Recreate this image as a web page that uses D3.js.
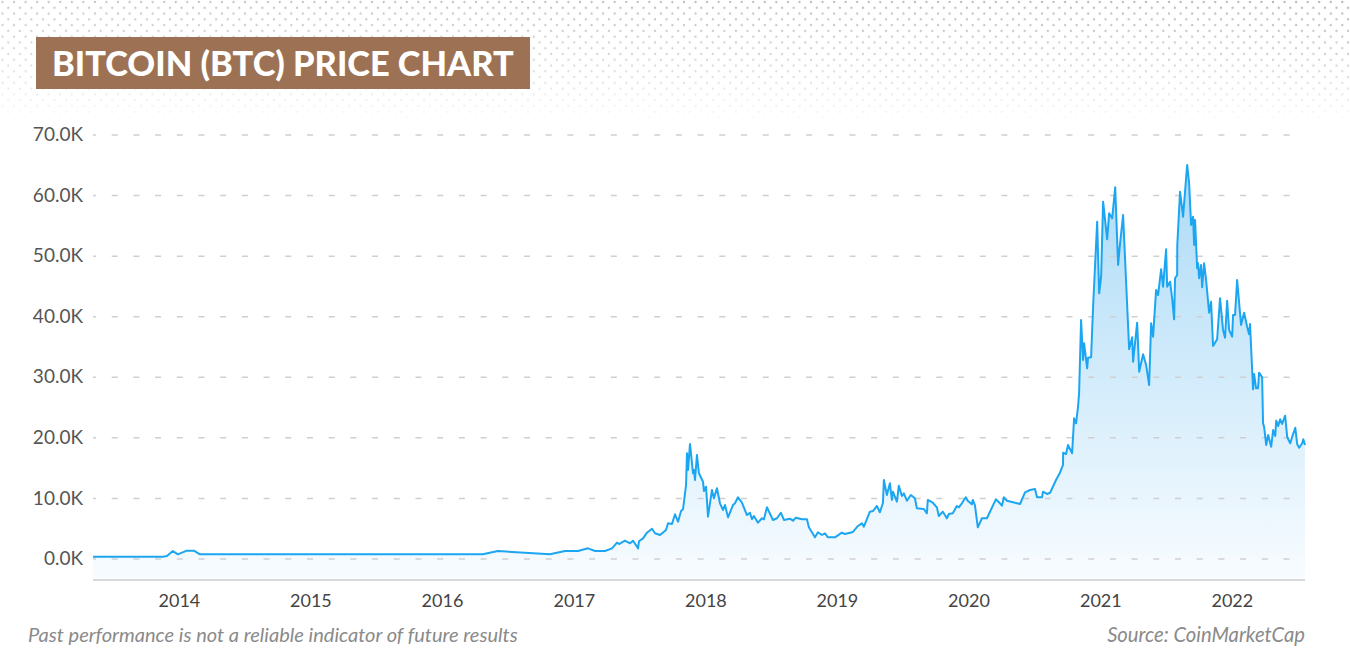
<!DOCTYPE html>
<html><head><meta charset="utf-8">
<script src="https://cdn.jsdelivr.net/npm/d3@7"></script>
<style>html,body{margin:0;padding:0;background:#fff;} svg{display:block;}</style>
</head><body><svg id="c" width="1350" height="669"></svg>
<script>
// ---------- data ----------
const titleText = "BITCOIN (BTC) PRICE CHART";
const noteText = "Past performance is not a reliable indicator of future results";
const sourceText = "Source: CoinMarketCap";
const yTickValues = [0, 10000, 20000, 30000, 40000, 50000, 60000, 70000];
const yearTicks = [2014, 2015, 2016, 2017, 2018, 2019, 2020, 2021, 2022];
// decimal years
const times = [
 2013.347, 2013.878, 2013.909, 2013.954, 2013.992, 2014.061, 2014.114, 2014.160, 2016.310, 2016.424,
 2016.819, 2016.933, 2017.032, 2017.108, 2017.161, 2017.237, 2017.290, 2017.328, 2017.343, 2017.389,
 2017.427, 2017.450, 2017.488, 2017.495, 2017.526, 2017.556, 2017.594, 2017.617, 2017.655, 2017.701,
 2017.716, 2017.746, 2017.769, 2017.792, 2017.815, 2017.830, 2017.853, 2017.860, 2017.868, 2017.883,
 2017.906, 2017.913, 2017.921, 2017.936, 2017.951, 2017.982, 2017.989, 2018.005, 2018.020, 2018.050,
 2018.065, 2018.088, 2018.111, 2018.134, 2018.149, 2018.172, 2018.210, 2018.225, 2018.248, 2018.278,
 2018.316, 2018.339, 2018.354, 2018.369, 2018.400, 2018.430, 2018.445, 2018.468, 2018.514, 2018.544,
 2018.574, 2018.597, 2018.643, 2018.666, 2018.688, 2018.734, 2018.772, 2018.787, 2018.833, 2018.856,
 2018.886, 2018.909, 2018.932, 2018.985, 2019.038, 2019.061, 2019.122, 2019.160, 2019.190, 2019.205,
 2019.251, 2019.274, 2019.304, 2019.327, 2019.350, 2019.357, 2019.380, 2019.403, 2019.418, 2019.426,
 2019.456, 2019.471, 2019.494, 2019.509, 2019.532, 2019.562, 2019.593, 2019.608, 2019.661, 2019.684,
 2019.691, 2019.729, 2019.760, 2019.775, 2019.805, 2019.836, 2019.851, 2019.881, 2019.912, 2019.927,
 2019.950, 2019.980, 2019.995, 2020.026, 2020.033, 2020.049, 2020.071, 2020.102, 2020.140, 2020.208,
 2020.239, 2020.254, 2020.269, 2020.292, 2020.391, 2020.429, 2020.467, 2020.505, 2020.520, 2020.558,
 2020.565, 2020.596, 2020.619, 2020.664, 2020.694, 2020.717, 2020.718, 2020.740, 2020.755, 2020.786,
 2020.801, 2020.816, 2020.831, 2020.839, 2020.854, 2020.869, 2020.877, 2020.900, 2020.907, 2020.930,
 2020.945, 2020.976, 2020.991, 2021.006, 2021.021, 2021.052, 2021.067, 2021.090, 2021.113, 2021.135,
 2021.150, 2021.173, 2021.219, 2021.242, 2021.249, 2021.280, 2021.295, 2021.325, 2021.348, 2021.371,
 2021.386, 2021.401, 2021.424, 2021.439, 2021.462, 2021.477, 2021.500, 2021.508, 2021.530, 2021.546,
 2021.561, 2021.568, 2021.584, 2021.585, 2021.606, 2021.629, 2021.644, 2021.660, 2021.675, 2021.690,
 2021.705, 2021.713, 2021.720, 2021.736, 2021.743, 2021.751, 2021.766, 2021.774, 2021.789, 2021.804,
 2021.827, 2021.842, 2021.857, 2021.888, 2021.910, 2021.933, 2021.948, 2021.964, 2021.979, 2022.002,
 2022.009, 2022.024, 2022.040, 2022.070, 2022.093, 2022.116, 2022.131, 2022.138, 2022.161, 2022.169,
 2022.184, 2022.199, 2022.207, 2022.230, 2022.237, 2022.245, 2022.261, 2022.276, 2022.299, 2022.314,
 2022.330, 2022.337, 2022.352, 2022.367, 2022.382, 2022.405, 2022.421, 2022.444, 2022.459, 2022.482,
 2022.497, 2022.512, 2022.535, 2022.543, 2022.556
];
const prices = [
 300, 300, 410, 1240, 690, 1290, 1290, 690, 690, 1240,
 690, 1240, 1240, 1680, 1240, 1240, 1680, 2610, 2390, 2940,
 2510, 2940, 1680, 2840, 3330, 4260, 4920, 4160, 3880, 4710,
 5810, 5700, 7300, 6080, 7840, 8120, 12140, 17370, 14610, 18900,
 14070, 14610, 12960, 17090, 14070, 12680, 11140, 11850, 6900, 11310,
 9940, 11590, 9110, 8010, 8830, 6800, 8830, 9110, 10100, 9210,
 7180, 7560, 6470, 7020, 5910, 6640, 6470, 8450, 6360, 6640,
 7560, 6360, 6570, 6240, 6740, 6470, 6470, 5150, 3500, 4330,
 3880, 4160, 3500, 3500, 4260, 4040, 4380, 5370, 5810, 5250,
 7730, 7840, 8670, 7630, 9210, 12960, 10480, 12420, 9660, 11030,
 9380, 12020, 10320, 10760, 9540, 10480, 9940, 8290, 8170, 7460,
 9660, 9210, 8450, 7020, 7730, 6640, 7350, 7460, 8670, 8450,
 9110, 10100, 9540, 8950, 9660, 8830, 5150, 6640, 6640, 9770,
 9110, 8720, 10100, 9540, 9000, 10930, 11310, 11470, 10100, 10100,
 11030, 10650, 10860, 12960, 14170, 15440, 17470, 17250, 18740, 17370,
 23150, 22320, 25060, 27370, 39380, 32770, 35530, 31400, 33150, 33220,
 41570, 55610, 43780, 46520, 58910, 52700, 56990, 56170, 61280, 48460,
 52040, 56710, 34540, 36520, 32490, 38930, 30840, 33710, 31950, 28640,
 38830, 36620, 44330, 43500, 47750, 44870, 51050, 44870, 45700, 42960,
 39490, 46260, 46810, 51760, 60560, 56430, 60560, 64970, 61950, 55060,
 56430, 51760, 55890, 47910, 48740, 46260, 48460, 44780, 48740, 45980,
 40580, 42400, 35080, 36190, 42960, 37730, 36450, 42560, 37730, 36620,
 40200, 40200, 45980, 38550, 40580, 38270, 37020, 38720, 27930, 30460,
 28100, 28100, 30680, 29920, 22320, 21760, 18740, 20390, 18460, 21220,
 20220, 22750, 21880, 22980, 22210, 23580, 20010, 19020, 20110, 21590,
 18850, 18290, 19020, 19680, 18740
];

// ---------- helpers ----------
function toDate(t) {
  const y = Math.floor(t);
  const s = Date.UTC(y, 0, 1), e = Date.UTC(y + 1, 0, 1);
  return new Date(s + (t - y) * (e - s));
}
const data = times.map((t, i) => ({ date: toDate(t), value: prices[i] }));

const W = 1350, H = 669;
const left = 93, right = 1305, axisY = 580;
const svg = d3.select("#c");
const defs = svg.append("defs");

// ---------- dotted background ----------
const pat = defs.append("pattern").attr("id", "dots").attr("patternUnits", "userSpaceOnUse")
  .attr("width", 11.55).attr("height", 11.55).attr("x", 2.5).attr("y", 2);
pat.append("circle").attr("cx", 0).attr("cy", 0).attr("r", 1.15).attr("fill", "#b4b4b4");
pat.append("circle").attr("cx", 11.55).attr("cy", 0).attr("r", 1.15).attr("fill", "#b4b4b4");
pat.append("circle").attr("cx", 0).attr("cy", 11.55).attr("r", 1.15).attr("fill", "#b4b4b4");
pat.append("circle").attr("cx", 11.55).attr("cy", 11.55).attr("r", 1.15).attr("fill", "#b4b4b4");
pat.append("circle").attr("cx", 5.775).attr("cy", 5.775).attr("r", 1.15).attr("fill", "#b4b4b4");

const gv = defs.append("linearGradient").attr("id", "fadeV").attr("gradientUnits", "userSpaceOnUse")
  .attr("x1", 0).attr("y1", 0).attr("x2", 0).attr("y2", 125);
gv.append("stop").attr("offset", 0).attr("stop-color", "#fff").attr("stop-opacity", 1);
gv.append("stop").attr("offset", 0.55).attr("stop-color", "#fff").attr("stop-opacity", 0.55);
gv.append("stop").attr("offset", 1).attr("stop-color", "#fff").attr("stop-opacity", 0);
const gh = defs.append("linearGradient").attr("id", "fadeH").attr("gradientUnits", "userSpaceOnUse")
  .attr("x1", 0).attr("y1", 0).attr("x2", W).attr("y2", 0);
gh.append("stop").attr("offset", 0).attr("stop-color", "#fff").attr("stop-opacity", 0.75);
gh.append("stop").attr("offset", 1).attr("stop-color", "#fff").attr("stop-opacity", 1);
defs.append("mask").attr("id", "maskV").attr("maskUnits", "userSpaceOnUse")
  .attr("x", 0).attr("y", 0).attr("width", W).attr("height", 140)
  .append("rect").attr("width", W).attr("height", 140).attr("fill", "url(#fadeV)");
defs.append("mask").attr("id", "maskH").attr("maskUnits", "userSpaceOnUse")
  .attr("x", 0).attr("y", 0).attr("width", W).attr("height", 140)
  .append("rect").attr("width", W).attr("height", 140).attr("fill", "url(#fadeH)");
svg.append("g").attr("mask", "url(#maskH)")
  .append("rect").attr("width", W).attr("height", 140).attr("fill", "url(#dots)").attr("mask", "url(#maskV)");

// ---------- title ----------
svg.append("rect").attr("x", 36).attr("y", 37).attr("width", 494).attr("height", 52).attr("fill", "#9d7254");
const tt = svg.append("text").attr("x", 52).attr("y", 76)
  .attr("font-family", "Lato, 'Open Sans', sans-serif").attr("font-weight", 900)
  .attr("font-size", 31).attr("fill", "#fff").text(titleText);
{
  const w = tt.node().getComputedTextLength();
  tt.attr("font-size", 31 * 462 / w);
}

// ---------- scales ----------
const x = d3.scaleUtc().domain([data[0].date, data[data.length - 1].date]).range([left, right]);
const y = d3.scaleLinear().domain([0, 70000]).range([558.5, 134.5]);

// ---------- area gradient ----------
const ag = defs.append("linearGradient").attr("id", "areaGrad").attr("gradientUnits", "userSpaceOnUse")
  .attr("x1", 0).attr("y1", y(70000)).attr("x2", 0).attr("y2", axisY);
ag.append("stop").attr("offset", 0).attr("stop-color", "#a6d8f6");
ag.append("stop").attr("offset", 1).attr("stop-color", "#f8fcff");

svg.append("path").datum(data)
  .attr("d", d3.area().x(d => x(d.date)).y0(axisY).y1(d => y(d.value)))
  .attr("fill", "url(#areaGrad)");

// ---------- gridlines ----------
const yAxis = d3.axisLeft(y).tickValues(yTickValues).tickSize(-(right - left)).tickPadding(10)
  .tickFormat(d => (d / 1000).toFixed(1) + "K");
const gy = svg.append("g").attr("transform", `translate(${left},0)`).call(yAxis);
gy.select(".domain").remove();
gy.selectAll(".tick line").attr("stroke", "#cfcfcf").attr("stroke-width", 1.5)
  .attr("stroke-dasharray", "6,15.7").attr("stroke-dashoffset", 3);
gy.selectAll(".tick text").attr("x", -10).attr("fill", "#555")
  .attr("font-family", "Lato, 'Open Sans', sans-serif").attr("font-size", 19);

// ---------- line ----------
svg.append("path").datum(data)
  .attr("d", d3.line().x(d => x(d.date)).y(d => y(d.value)))
  .attr("fill", "none").attr("stroke", "#1ca6f1").attr("stroke-width", 2).attr("stroke-linejoin", "round");

// ---------- x axis ----------
svg.append("line").attr("x1", left).attr("x2", right).attr("y1", axisY).attr("y2", axisY)
  .attr("stroke", "#d9d9d9").attr("stroke-width", 2);
const xAxis = d3.axisBottom(x).tickValues(yearTicks.map(yr => new Date(Date.UTC(yr, 0, 1))))
  .tickSize(0).tickPadding(14).tickFormat(d3.utcFormat("%Y"));
const gx = svg.append("g").attr("transform", `translate(0,${axisY})`).call(xAxis);
gx.select(".domain").remove();
gx.selectAll(".tick text").attr("fill", "#444")
  .attr("font-family", "Lato, 'Open Sans', sans-serif").attr("font-size", 18);

// ---------- footer ----------
const n1 = svg.append("text").attr("x", 28).attr("y", 642).attr("fill", "#8a8a8a")
  .attr("font-family", "Lato, 'Open Sans', sans-serif").attr("font-style", "italic").attr("font-size", 16).text(noteText);
{ const w = n1.node().getComputedTextLength(); n1.attr("font-size", 16 * 490 / w); }
const n2 = svg.append("text").attr("x", 1305).attr("y", 642).attr("text-anchor", "end").attr("fill", "#8a8a8a")
  .attr("font-family", "Lato, 'Open Sans', sans-serif").attr("font-style", "italic").attr("font-size", 16).text(sourceText);
{ const w = n2.node().getComputedTextLength(); n2.attr("font-size", 16 * 198 / w); }
</script></body></html>
